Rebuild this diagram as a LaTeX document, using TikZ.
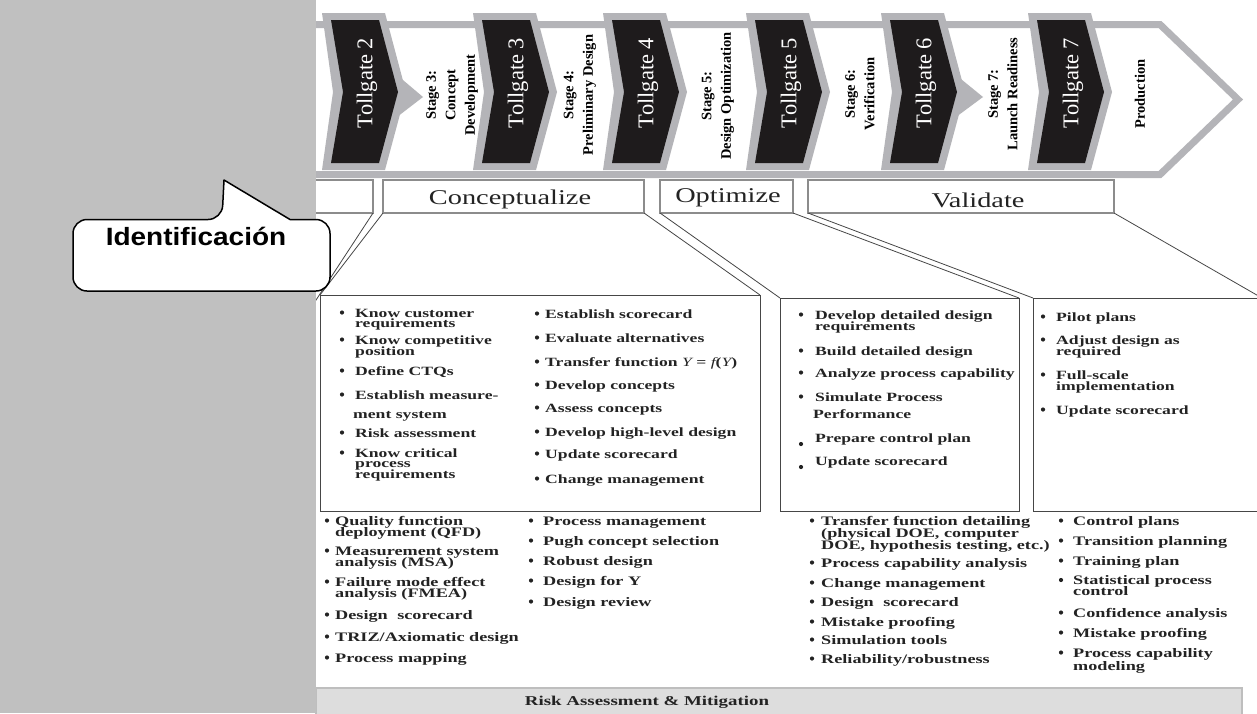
\documentclass[tikz,border=0pt]{standalone}
\usepackage{fontspec}
\setmainfont{Liberation Serif}
\newfontfamily\listfont[FakeStretch=1.4]{Liberation Serif}
\newfontfamily\headfont[FakeStretch=1.35]{Liberation Serif}
\newfontfamily\calloutfont[FakeStretch=1.12]{Liberation Sans}

\definecolor{panelgray}{RGB}{192,192,192}
\definecolor{bandgray}{RGB}{180,180,184}
\definecolor{gateblack}{RGB}{30,27,28}
\definecolor{headgray}{RGB}{140,140,140}
\definecolor{linkgray}{RGB}{70,70,70}
\definecolor{textdark}{RGB}{35,35,35}
\definecolor{bargray}{RGB}{221,221,221}
\definecolor{barline}{RGB}{190,190,190}

\tikzset{
  band/.style={draw=bandgray, line width=7pt, fill=white, line join=miter},
  gatelabel/.style={text=white, font=\fontsize{22.5}{24}\selectfont, rotate=90, inner sep=0pt},
  stagelabel/.style={font=\bfseries\fontsize{14.5}{19.5}\selectfont, rotate=90, align=center, inner sep=0pt},
  headbox/.style={draw=headgray, line width=2.8pt, fill=white, outer sep=0pt, inner sep=0pt, minimum height=33pt},
  headlabel/.style={font=\headfont\fontsize{21}{21}\selectfont, anchor=base, inner sep=0pt, text=textdark},
  listbox/.style={draw=linkgray, line width=0.9pt, outer sep=0pt, inner sep=0pt},
  link/.style={draw=linkgray, line width=0.8pt},
  toplist/.style={font=\listfont\bfseries\fontsize{12.6}{12.6}\selectfont, anchor=base west, inner sep=0pt, text=textdark},
  botlist/.style={font=\listfont\bfseries\fontsize{13}{13}\selectfont, anchor=base west, inner sep=0pt, text=textdark},
  bul/.style={circle, fill=textdark, inner sep=0pt, minimum size=4.2pt},
  riskbar/.style={fill=bargray, draw=barline, line width=1.2pt, inner sep=0pt, outer sep=0pt},
  risklabel/.style={font=\listfont\bfseries\fontsize{13.5}{13.5}\selectfont, anchor=base, inner sep=0pt, text=textdark},
  callout/.style={draw=black, line width=1.5pt, fill=white, line join=round},
  calloutlabel/.style={font=\calloutfont\bfseries\fontsize{25}{25}\selectfont, anchor=base, inner sep=0pt}
}

% one text line of a list, and one bullet (given by its line's baseline), each a named node
\newcounter{txtno}
\newcommand\listline[4]{\stepcounter{txtno}\node[#1] (e\arabic{txtno}) at (#2,#3) {#4};}
\newcommand\bulletat[2]{\stepcounter{txtno}\node[bul] (d\arabic{txtno}) at (#1,#2-4.5) {};}

% a tollgate chevron: grey rim, black face, white rotated label
\newcommand\tollgate[3]{%
  \fill[bandgray] (#1-9,13) -- (#1+54,13) -- (#1+75,92) -- (#1+54,170) -- (#1-9,170) -- (#1+2,92) -- cycle;
  \fill[gateblack] (#1,20) -- (#1+48,20) -- (#1+67,92) -- (#1+48,163) -- (#1,163) -- (#1+12,92) -- cycle;
  \node[gatelabel] (#2) at (#1+36,83) {Tollgate #3};}

\begin{document}
\begin{tikzpicture}[x=1pt,y=-1pt]
\useasboundingbox (0,0) rectangle (1257,713);

% process arrow
\draw[band] (300,24.5) -- (1160,24.5) -- (1238,99.5) -- (1160,174.5) -- (300,174.5);

% pointers into stages 3 and 7
\fill[bandgray] (397,75) -- (423,97) -- (397,117) -- cycle;
\fill[bandgray] (956,75) -- (983,97) -- (956,117) -- cycle;

\tollgate{331}{tg2}{2}
\tollgate{482}{tg3}{3}
\tollgate{612}{tg4}{4}
\tollgate{755}{tg5}{5}
\tollgate{890}{tg6}{6}
\tollgate{1037}{tg7}{7}

\node[stagelabel] (s3) at (452,95) {Stage 3:\\Concept\\Development};
\node[stagelabel] (s4) at (580,95) {Stage 4:\\Preliminary Design};
\node[stagelabel] (s5) at (718,96) {Stage 5:\\Design Optimization};
\node[stagelabel] (s6) at (860,94) {Stage 6:\\Verification};
\node[stagelabel] (s7) at (1003,94) {Stage 7:\\Launch Readiness};
\node[stagelabel] (prod) at (1140,94) {Production};

% phase headings
\node[headbox, minimum width=59pt] (idbox) at (343.5,196.5) {};
\node[headbox, minimum width=261pt] (concept) at (513.5,196.5) {};
\node[headbox, minimum width=133pt] (optim) at (726.5,196.5) {};
\node[headbox, minimum width=306pt] (valid) at (961,196.5) {};
\node[headlabel] (conceptlbl) at (510,204) {Conceptualize};
\node[headlabel] (optimlbl) at (728,202) {Optimize};
\node[headlabel] (validlbl) at (978,207) {Validate};

% activity boxes
\node[listbox, minimum width=440pt, minimum height=216pt] (cbox) at (540,403) {};
\node[listbox, minimum width=239pt, minimum height=213pt] (obox) at (899.5,404.5) {};
\node[listbox, minimum width=229pt, minimum height=213pt] (vbox) at (1147.5,404.5) {};

\coordinate (idend) at (300,324.5);
\draw[link] (idbox.south east) -- (idend);
\draw[link] (concept.south west) -- (cbox.north west);
\draw[link] (concept.south east) -- (cbox.north east);
\draw[link] (optim.south west) -- (obox.north west);
\draw[link] (optim.south east) -- (obox.north east);
\draw[link] (valid.south west) -- (vbox.north west);
\draw[link] (valid.south east) -- (vbox.north east);

% Conceptualize activities
\bulletat{342}{317}\listline{toplist}{355}{317}{Know customer}
\listline{toplist}{355}{327.5}{requirements}
\bulletat{342}{344}\listline{toplist}{355}{344}{Know competitive}
\listline{toplist}{355}{355}{position}
\bulletat{342}{375}\listline{toplist}{355}{375}{Define CTQs}
\bulletat{342}{399}\listline{toplist}{355}{399}{Establish measure-}
\listline{toplist}{353}{418}{ment system}
\bulletat{342}{437}\listline{toplist}{355}{437}{Risk assessment}
\bulletat{342}{457}\listline{toplist}{355}{457}{Know critical}
\listline{toplist}{355}{467.5}{process}
\listline{toplist}{355}{478}{requirements}

\bulletat{537}{318}\listline{toplist}{545}{318}{Establish scorecard}
\bulletat{537}{342}\listline{toplist}{545}{342}{Evaluate alternatives}
\bulletat{537}{366}\listline{toplist}{545}{366}{Transfer function {\mdseries\itshape Y} = {\mdseries\itshape f}({\mdseries\itshape Y})}
\bulletat{537}{389}\listline{toplist}{545}{389}{Develop concepts}
\bulletat{537}{412}\listline{toplist}{545}{412}{Assess concepts}
\bulletat{537}{436}\listline{toplist}{545}{436}{Develop high-level design}
\bulletat{537}{458}\listline{toplist}{545}{458}{Update scorecard}
\bulletat{537}{483}\listline{toplist}{545}{483}{Change management}

% Optimize activities
\bulletat{801}{319}\listline{toplist}{815}{319}{Develop detailed design}
\listline{toplist}{815}{330}{requirements}
\bulletat{801}{355}\listline{toplist}{815}{355}{Build detailed design}
\bulletat{801}{377}\listline{toplist}{815}{377}{Analyze process capability}
\bulletat{801}{401}\listline{toplist}{815}{401}{Simulate Process}
\listline{toplist}{813}{418}{Performance}
\bulletat{801}{448.5}\listline{toplist}{815}{442}{Prepare control plan}
\bulletat{801}{471.5}\listline{toplist}{815}{465}{Update scorecard}

% Validate activities
\bulletat{1043}{321}\listline{toplist}{1056}{321}{Pilot plans}
\bulletat{1043}{344}\listline{toplist}{1056}{344}{Adjust design as}
\listline{toplist}{1056}{355}{required}
\bulletat{1043}{379}\listline{toplist}{1056}{379}{Full-scale}
\listline{toplist}{1056}{390}{implementation}
\bulletat{1043}{414}\listline{toplist}{1056}{414}{Update scorecard}

% tools, Conceptualize
\bulletat{327}{525}\listline{botlist}{335}{525}{Quality function}
\listline{botlist}{335}{536}{deployment (QFD)}
\bulletat{327}{555}\listline{botlist}{335}{555}{Measurement system}
\listline{botlist}{335}{566}{analysis (MSA)}
\bulletat{327}{586}\listline{botlist}{335}{586}{Failure mode effect}
\listline{botlist}{335}{597}{analysis (FMEA)}
\bulletat{327}{619}\listline{botlist}{335}{619}{Design\hspace{5pt} scorecard}
\bulletat{327}{641}\listline{botlist}{335}{641}{TRIZ/Axiomatic design}
\bulletat{327}{662}\listline{botlist}{335}{662}{Process mapping}

\bulletat{531}{525}\listline{botlist}{543}{525}{Process management}
\bulletat{531}{545}\listline{botlist}{543}{545}{Pugh concept selection}
\bulletat{531}{565}\listline{botlist}{543}{565}{Robust design}
\bulletat{531}{585}\listline{botlist}{543}{585}{Design for Y}
\bulletat{531}{606}\listline{botlist}{543}{606}{Design review}

% tools, Optimize
\bulletat{812}{525}\listline{botlist}{821}{525}{Transfer function detailing}
\listline{botlist}{821}{537}{(physical DOE, computer}
\listline{botlist}{821}{549}{DOE, hypothesis testing, etc.)}
\bulletat{812}{567}\listline{botlist}{821}{567}{Process capability analysis}
\bulletat{812}{587}\listline{botlist}{821}{587}{Change management}
\bulletat{812}{606}\listline{botlist}{821}{606}{Design\hspace{5pt} scorecard}
\bulletat{812}{626}\listline{botlist}{821}{626}{Mistake proofing}
\bulletat{812}{644}\listline{botlist}{821}{644}{Simulation tools}
\bulletat{812}{663}\listline{botlist}{821}{663}{Reliability/robustness}

% tools, Validate
\bulletat{1061}{525}\listline{botlist}{1073}{525}{Control plans}
\bulletat{1061}{545}\listline{botlist}{1073}{545}{Transition planning}
\bulletat{1061}{565}\listline{botlist}{1073}{565}{Training plan}
\bulletat{1061}{584.5}\listline{botlist}{1073}{584.5}{Statistical process}
\listline{botlist}{1073}{595.5}{control}
\bulletat{1061}{617}\listline{botlist}{1073}{617}{Confidence analysis}
\bulletat{1061}{637}\listline{botlist}{1073}{637}{Mistake proofing}
\bulletat{1061}{657}\listline{botlist}{1073}{657}{Process capability}
\listline{botlist}{1073}{670}{modeling}

% risk band
\node[riskbar, minimum width=926pt, minimum height=34pt] (risk) at (779,705) {};
\node[risklabel] (risklbl) at (647,705) {Risk Assessment \& Mitigation};

% grey side panel
\fill[panelgray] (0,0) rectangle (316,713);

% callout
\draw[callout] (224,180) -- (290,219.5) [rounded corners=14pt] -- (330,219.5) -- (330,291) -- (73,291) -- (73,219.5) -- (222,219.5) [sharp corners] -- cycle;
\node[calloutlabel] (ident) at (196,245) {Identificación};
\end{tikzpicture}
\end{document}
